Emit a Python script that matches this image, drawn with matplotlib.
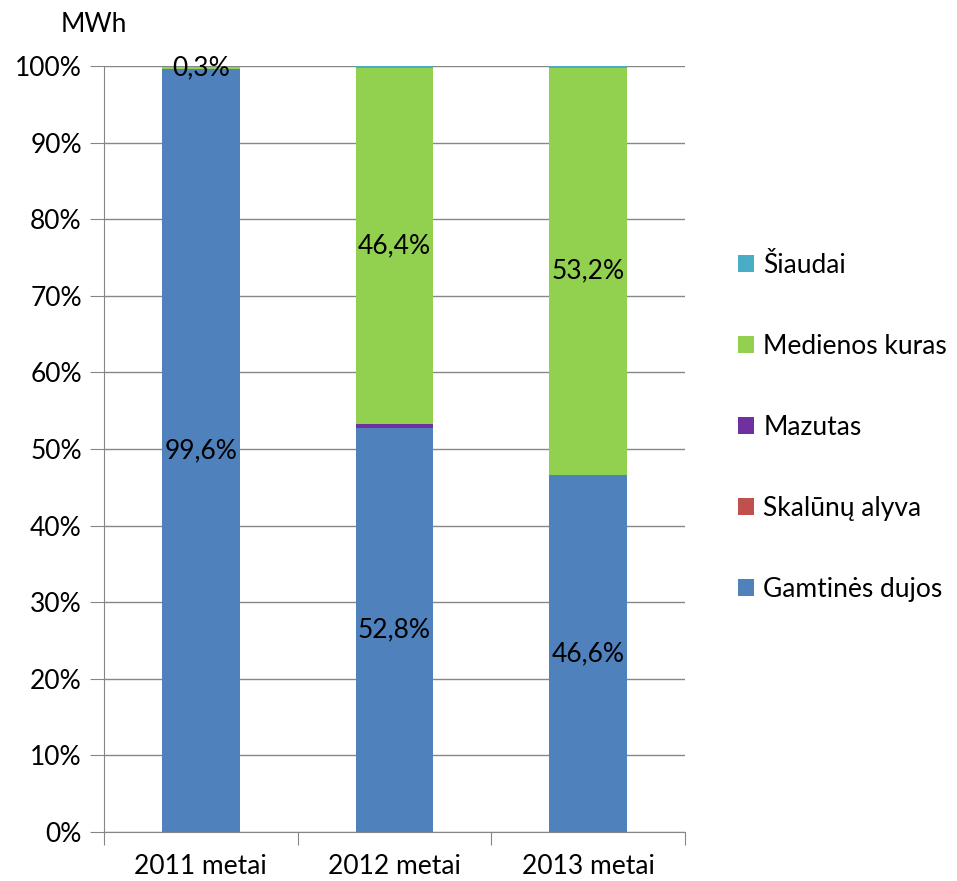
import matplotlib.pyplot as plt
import numpy as np

categories = ["2011 metai", "2012 metai", "2013 metai"]
series_names = ["Gamtinės dujos", "Skalūnų alyva", "Mazutas", "Medienos kuras", "Šiaudai"]
gamtines_dujos = [99.6, 52.8, 46.6]
skalunu_alyva = [0.0, 0.0, 0.0]
mazutas = [0.0, 0.5, 0.0]
medienos_kuras = [0.3, 46.4, 53.2]
siaudai = [0.0, 0.3, 0.2]
colors = ["#4F81BD", "#C0504D", "#7030A0", "#92D050", "#4BACC6"]
# which series get value labels
labeled = ["Gamtinės dujos", "Medienos kuras"]

plt.rcParams['font.family'] = ['Lato', 'DejaVu Sans']
FS = 19

fig = plt.figure(figsize=(9.57, 8.81), dpi=100)
ax = fig.add_axes([104 / 957, 1 - 832 / 881, 581 / 957, 766 / 881])

data = [gamtines_dujos, skalunu_alyva, mazutas, medienos_kuras, siaudai]
x = np.arange(len(categories))
bottom = np.zeros(len(categories))
handles = []
for name, vals, col in zip(series_names, data, colors):
    vals = np.array(vals)
    b = ax.bar(x, vals, 0.4, bottom=bottom, color=col, label=name, zorder=3)
    handles.append(b)
    if name in labeled:
        for xi, v, bt in zip(x, vals, bottom):
            if v > 0:
                ax.text(xi, bt + v / 2, f"{v:.1f}%".replace(".", ","),
                        ha="center", va="center", fontsize=FS, zorder=4)
    bottom += vals

ax.set_xlim(-0.5, 2.5)
ax.set_ylim(0, 100)
ax.set_yticks(np.arange(0, 101, 10))
ax.set_yticklabels([f"{v}%" for v in range(0, 101, 10)], fontsize=FS)
ax.set_xticks([-0.5, 0.5, 1.5, 2.5])
ax.set_xticklabels([])
ax.set_xticks(x, minor=True)
ax.set_xticklabels(categories, minor=True, fontsize=FS)
ax.tick_params(axis="x", which="minor", length=0, pad=16)
ax.tick_params(axis="x", which="major", length=9, color="#868686", direction="out")
ax.tick_params(axis="y", length=10, color="#868686", pad=6)
ax.grid(axis="y", color="#868686", linewidth=1, zorder=0)
for s in ["top", "right"]:
    ax.spines[s].set_visible(False)
for s in ["left", "bottom"]:
    ax.spines[s].set_color("#868686")

fig.text(94 / 957, 1 - 25 / 881, "MWh", ha="center", va="center", fontsize=FS)

leg = ax.legend(handles[::-1], series_names[::-1], loc="center left",
                bbox_to_anchor=(1.069, 0.528), frameon=False, fontsize=FS,
                labelspacing=2.12, handlelength=0.6, handleheight=0.6,
                handletextpad=0.35, borderpad=0)

fig.savefig("out.png", dpi=100)
